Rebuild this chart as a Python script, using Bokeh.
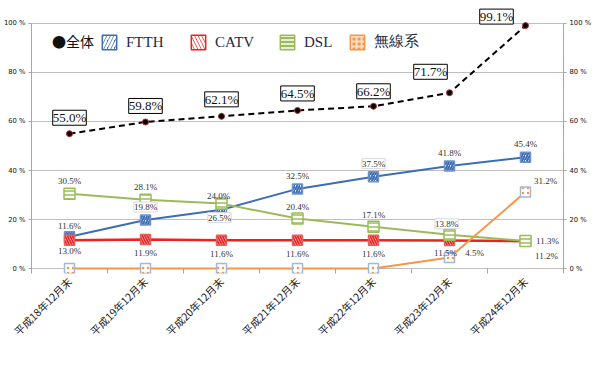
import math
import numpy as np
from bokeh.plotting import figure
from bokeh.models import (ColumnDataSource, LinearAxis, FixedTicker, LabelSet,
                          Legend, LegendItem, Range1d)
from bokeh.embed import file_html
from bokeh.resources import INLINE

# ---------------- data ----------------
categories = ["平成18年12月末", "平成19年12月末", "平成20年12月末", "平成21年12月末",
              "平成22年12月末", "平成23年12月末", "平成24年12月末"]
total = [55.0, 59.8, 62.1, 64.5, 66.2, 71.7, 99.1]
ftth = [13.0, 19.8, 24.0, 32.5, 37.5, 41.8, 45.4]
catv = [11.6, 11.9, 11.6, 11.6, 11.6, 11.5, 11.2]
dsl = [30.5, 28.1, 26.5, 20.4, 17.1, 13.8, 11.3]
wireless = [0.0, 0.0, 0.0, 0.0, 0.0, 4.5, 31.2]
y_ticks = [0, 20, 40, 60, 80, 100]
names = ["全体", "FTTH", "CATV", "DSL", "無線系"]

# label placement (screen px offsets, up = positive) -- style only
total_dx = [0, 0, 0, 0, 0, -19, -29]
total_dy = [16, 16, 17, 17, 15, 21, 9]
ftth_dx = [0, 0, -3, 0, 0, 0, 0]
ftth_dy = [-14, 13, 14, 13, 13, 13, 13]
ftth_box = [False, True, False, False, True, False, False]
catv_dx = [0, 0, 0, 0, 0, -4, 21]
catv_dy = [14, -14, -14, -14, -14, -13, -15]
catv_box = [False] * 7
dsl_dx = [0, 0, -2, 0, 0, -3, 22]
dsl_dy = [13, 13, -14, 12, 12, 11, 0]
dsl_box = [False, False, True, False, False, True, False]
wl_dx = [0, 0, 0, 0, 0, 25, 20]
wl_dy = [0, 0, 0, 0, 0, 5, 11]
wl_box = [False] * 7

x = list(range(len(categories)))

BLUE = "#3d6db5"
RED = "#f02020"
GREEN = "#9bbb59"
ORANGE = "#f79646"
GRID = "#bfbfbf"
AXIS = "#a6a6a6"

FH = 268
p = figure(frame_width=532, frame_height=FH,
           x_range=Range1d(-0.5, 6.5), y_range=Range1d(-2, 107.3),
           output_backend="svg", toolbar_location=None,
           min_border_left=28, min_border_right=0, min_border_top=5,
           min_border_bottom=0)
p.outline_line_color = None
p.background_fill_color = "white"
p.border_fill_color = "white"
p.xgrid.visible = False
p.ygrid.ticker = FixedTicker(ticks=y_ticks)
p.ygrid.grid_line_color = GRID
p.ygrid.grid_line_width = 1

y_over = {v: f"{v} %" for v in y_ticks}


def style_y(ax, standoff):
    ax.ticker = FixedTicker(ticks=y_ticks, minor_ticks=[])
    ax.bounds = (-2, 100)
    ax.major_label_overrides = y_over
    ax.major_label_text_font = "DejaVu Sans"
    ax.major_label_text_font_size = "6.8px"
    ax.major_label_text_color = "#111111"
    ax.axis_line_color = AXIS
    ax.major_tick_line_color = AXIS
    ax.major_tick_out = 3
    ax.major_tick_in = 0
    ax.minor_tick_line_color = None
    ax.major_label_standoff = standoff


style_y(p.yaxis[0], 3)
right_axis = LinearAxis()
style_y(right_axis, 3)
p.add_layout(right_axis, "right")

xa = p.xaxis[0]
xa.ticker = FixedTicker(ticks=x, minor_ticks=[i + 0.5 for i in range(len(x) - 1)])
xa.major_label_overrides = {i: c for i, c in enumerate(categories)}
xa.major_label_orientation = math.pi / 4
xa.major_tick_out = 0
xa.major_tick_in = 0
xa.minor_tick_out = 0
xa.minor_tick_in = 5
xa.minor_tick_line_color = AXIS
xa.axis_line_color = None
xa.major_label_text_font = "Noto Sans CJK JP"
xa.major_label_text_font_size = "10.5px"
xa.major_label_text_color = "#222222"
xa.major_label_standoff = 6

# ---------------- series ----------------
p.line(x, ftth, line_color=BLUE, line_width=2)
p.scatter(x, ftth, marker="square", size=10, fill_color="white", line_color="#6f93c8",
          line_width=1.5, hatch_pattern="/", hatch_color=BLUE, hatch_scale=5, hatch_weight=2)

p.line(x, catv, line_color=RED, line_width=2.5)
p.scatter(x, catv, marker="square", size=10, fill_color="white", line_color="#e06060",
          line_width=1.5, hatch_pattern="\\", hatch_color=RED, hatch_scale=5, hatch_weight=1.8)

p.line(x, dsl, line_color=GREEN, line_width=2)
p.scatter(x, dsl, marker="square", size=11, fill_color="white", line_color=GREEN,
          line_width=1.5, hatch_pattern="-", hatch_color=GREEN, hatch_scale=4, hatch_weight=1.5)

p.line(x, wireless, line_color=ORANGE, line_width=2)
p.scatter(x, wireless, marker="square", size=10, fill_color="white", line_color="#a3b8d8",
          line_width=1.5, hatch_pattern=".", hatch_color=ORANGE, hatch_scale=5, hatch_weight=4)

p.line(x, total, line_color="black", line_width=2, line_dash="6 4")
p.scatter(x, total, marker="circle", size=6, fill_color="black", line_color="#b03030",
          line_width=1)

# ---------------- labels ----------------
def pct(v):
    return f"{v:.1f}%"


def make_labelset(src, **kw):
    try:
        return LabelSet(source=src, **kw, padding=3)
    except Exception:
        return LabelSet(source=src, **kw)


src_total = ColumnDataSource(dict(x=x, y=total, t=[pct(v) for v in total],
                                  dx=total_dx, dy=total_dy))
p.add_layout(make_labelset(src_total, x="x", y="y", text="t", x_offset="dx", y_offset="dy",
                           text_align="center", text_baseline="middle",
                           text_font="Liberation Sans", text_font_size="13px",
                           text_color="#111111", background_fill_color="white",
                           border_line_color="black", border_line_width=1))

plain = dict(x=[], y=[], t=[], dx=[], dy=[])
boxed = dict(x=[], y=[], t=[], dx=[], dy=[])
for vals, dxs, dys, bx in [(ftth, ftth_dx, ftth_dy, ftth_box),
                           (catv, catv_dx, catv_dy, catv_box),
                           (dsl, dsl_dx, dsl_dy, dsl_box),
                           (wireless, wl_dx, wl_dy, wl_box)]:
    for i, v in enumerate(vals):
        if v == 0:
            continue
        d = boxed if bx[i] else plain
        d["x"].append(x[i]); d["y"].append(v); d["t"].append(pct(v))
        d["dx"].append(dxs[i]); d["dy"].append(dys[i])

p.add_layout(LabelSet(x="x", y="y", text="t", x_offset="dx", y_offset="dy",
                      source=ColumnDataSource(plain), text_align="center",
                      text_baseline="middle", text_font="DejaVu Sans",
                      text_font_size="9px", text_color="#333333"))
p.add_layout(make_labelset(ColumnDataSource(boxed), x="x", y="y", text="t",
                           x_offset="dx", y_offset="dy", text_align="center",
                           text_baseline="middle", text_font="DejaVu Sans",
                           text_font_size="9px", text_color="#333333",
                           background_fill_color="white", border_line_color="#d9d9d9",
                           border_line_width=1))

# ---------------- legend ----------------
nan = np.array([np.nan])
r_total_leg = p.scatter(x=nan, y=nan, marker="circle", size=0, fill_alpha=0, line_alpha=0)
r_ftth_leg = p.rect(x=nan, y=nan, width=1, height=1, fill_color=BLUE, line_color=BLUE,
                    line_width=1.5, hatch_pattern="/", hatch_color="white",
                    hatch_scale=7, hatch_weight=2.5)
r_catv_leg = p.rect(x=nan, y=nan, width=1, height=1, fill_color=RED, line_color=RED,
                    line_width=1.5, hatch_pattern="\\", hatch_color="white",
                    hatch_scale=7, hatch_weight=2.5)
r_dsl_leg = p.rect(x=nan, y=nan, width=1, height=1, fill_color=GREEN, line_color=GREEN,
                   line_width=1.5, hatch_pattern="-", hatch_color="white",
                   hatch_scale=4, hatch_weight=1.5)
r_wl_leg = p.rect(x=nan, y=nan, width=1, height=1, fill_color=ORANGE, line_color=ORANGE,
                  line_width=1.5, hatch_pattern="+", hatch_color="#fde0c8",
                  hatch_scale=5, hatch_weight=2)

LEG_Y = FH - 46
common = dict(orientation="horizontal", glyph_height=18, padding=0, margin=0,
              border_line_color=None, background_fill_alpha=0, label_height=18)

p.add_layout(Legend(items=[LegendItem(label="●" + names[0], renderers=[r_total_leg])],
                    location=(20, LEG_Y), glyph_width=1, label_standoff=0,
                    label_text_font="Noto Sans CJK JP", label_text_font_size="14px",
                    label_text_color="#111111", **common))
for name, r, lx in [(names[1], r_ftth_leg, 69), (names[2], r_catv_leg, 158),
                    (names[3], r_dsl_leg, 247), (names[4], r_wl_leg, 317)]:
    p.add_layout(Legend(items=[LegendItem(label=name, renderers=[r])],
                        location=(lx, LEG_Y), glyph_width=18, label_standoff=8,
                        label_text_font="Liberation Serif", label_text_font_size="15px",
                        label_text_color="#1e2a44", **common))

open("out.html", "w").write(file_html(p, INLINE))
